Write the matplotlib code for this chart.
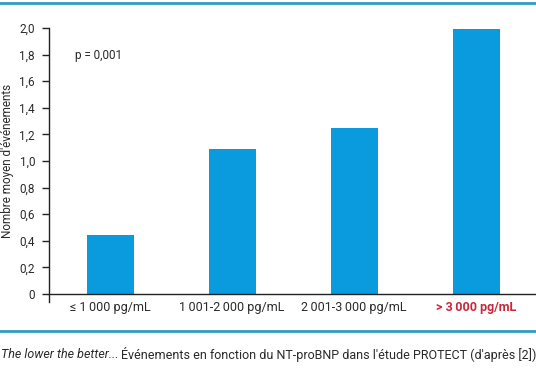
import matplotlib
matplotlib.use("Agg")
import matplotlib.pyplot as plt

plt.rcParams['font.family'] = ['Roboto', 'DejaVu Sans']

categories = ["\u2264 1\u2009000 pg/mL", "1\u2009001-2\u2009000 pg/mL", "2\u2009001-3\u2009000 pg/mL", "> 3\u2009000 pg/mL"]
values = [0.44, 1.09, 1.25, 1.99]
yticks = [0, 0.2, 0.4, 0.6, 0.8, 1.0, 1.2, 1.4, 1.6, 1.8, 2.0]
ytick_labels = ["0", "0,2", "0,4", "0,6", "0,8", "1,0", "1,2", "1,4", "1,6", "1,8", "2,0"]

bar_color = "#0A9BDF"
text_color = "#2a2a2a"
red = "#C8283C"
teal = "#2C9EC0"

fig = plt.figure(figsize=(5.36, 3.70), dpi=100)
ax = fig.add_axes([49/536, (370-302)/370, 1 - 49/536, (302-28)/370])

x = list(range(len(categories)))
ax.bar(x, values, width=0.385, color=bar_color, zorder=2)
ax.set_xlim(-0.5, 3.49)
ax.set_ylim(-0.06, 2.0)

for s in ['top', 'right']:
    ax.spines[s].set_visible(False)
ax.spines['bottom'].set_position(('data', 0))
ax.spines['left'].set_color('#222222')
ax.spines['bottom'].set_color('#222222')
ax.spines['left'].set_linewidth(1.0)
ax.spines['bottom'].set_linewidth(1.0)

ax.set_yticks(yticks)
ax.set_yticklabels(ytick_labels, fontsize=8.5, color=text_color)
ax.tick_params(axis='y', direction='out', length=5, width=1, pad=5, color='#222222')
ax.set_xticks(x)
ax.set_xticklabels(categories, fontsize=9, color=text_color)
ax.tick_params(axis='x', length=0, pad=5)
lbl = ax.get_xticklabels()[-1]
lbl.set_color(red)
lbl.set_fontweight('bold')

ax.text(-0.09, 1.79, "p = 0,001", fontsize=8.5, color=text_color, ha='center', va='center')

fig.text(0.001, (370-161)/370, "Nombre moyen d'événements", rotation=90, fontsize=8.5,
         color=text_color, ha='left', va='center')

# decorative lines
fig.add_artist(plt.Line2D([0, 1], [1 - 3/370, 1 - 3/370], color=teal, linewidth=2, transform=fig.transFigure))
fig.add_artist(plt.Line2D([0, 1], [1 - 331/370, 1 - 331/370], color=teal, linewidth=2, transform=fig.transFigure))

t1 = fig.text(0.001, 1 - 354/370, "The lower the better...", fontsize=9, style='italic',
              color=text_color, ha='left', va='center')
fig.canvas.draw()
bb = t1.get_window_extent()
x2 = bb.x1 / fig.bbox.width
fig.text(x2 + 0.006, 1 - 354/370, "Événements en fonction du NT-proBNP dans l'étude PROTECT (d'après [2])",
         fontsize=9, color=text_color, ha='left', va='center')

fig.savefig("out.png", dpi=100)
